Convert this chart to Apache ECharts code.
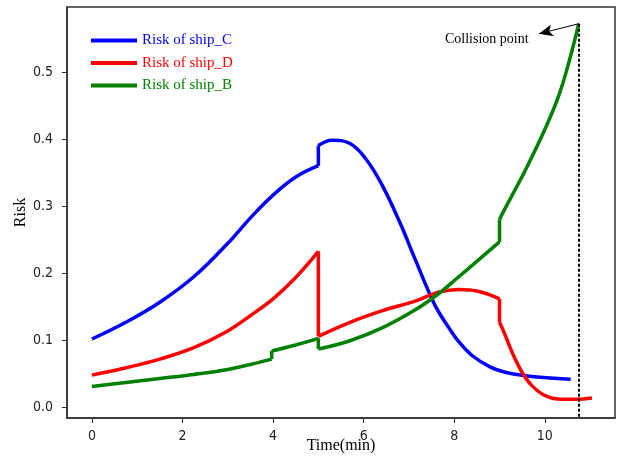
<!DOCTYPE html>
<html>
<head>
<meta charset="utf-8">
<script src="https://cdn.jsdelivr.net/npm/echarts@6/dist/echarts.min.js"></script>
<style>html,body{margin:0;padding:0;background:#fff}#chart{width:621px;height:456px}</style>
</head>
<body>
<div id="chart"></div>
<script>
// ---- data (time in minutes, risk values) ----
const timeC = [0, 0.75, 1.5, 2.25, 3, 3.5, 4, 4.5, 5, 5, 5.3, 5.7, 6.05, 6.4, 6.8, 7.15, 7.5, 7.66, 7.9, 8.1, 8.4, 8.8, 9.15, 9.5, 9.9, 10.57];
const riskC = [0.102, 0.127, 0.157, 0.195, 0.245, 0.283, 0.317, 0.344, 0.361, 0.391, 0.399, 0.394, 0.371, 0.333, 0.276, 0.219, 0.163, 0.142, 0.117, 0.098, 0.077, 0.060, 0.052, 0.048, 0.045, 0.042];

const timeD = [0, 0.75, 1.5, 2.25, 3, 3.5, 4, 4.5, 5, 5, 5.7, 6.4, 7.15, 7.65, 8.1, 8.55, 9, 9, 9.13, 9.28, 9.5, 9.72, 10.02, 10.38, 10.7, 11.04];
const riskD = [0.048, 0.059, 0.072, 0.089, 0.114, 0.137, 0.162, 0.194, 0.233, 0.106, 0.127, 0.144, 0.159, 0.172, 0.176, 0.173, 0.162, 0.127, 0.107, 0.082, 0.052, 0.032, 0.017, 0.012, 0.012, 0.014];

const timeB = [0, 0.75, 1.5, 2.25, 3, 3.5, 3.97, 3.97, 4.5, 5, 5, 5.68, 6.42, 7.15, 7.66, 8.1, 8.55, 9, 9, 9.13, 9.4, 9.65, 10.02, 10.31, 10.53, 10.75];
const riskB = [0.031, 0.037, 0.043, 0.049, 0.0565, 0.064, 0.072, 0.084, 0.093, 0.103, 0.087, 0.099, 0.119, 0.146, 0.170, 0.195, 0.221, 0.247, 0.281, 0.298, 0.332, 0.365, 0.418, 0.466, 0.515, 0.573];

const seriesNames = ['Risk of ship_C', 'Risk of ship_D', 'Risk of ship_B'];
const seriesColors = ['#0000ff', '#ff0000', '#008000'];
const xTicks = [0, 2, 4, 6, 8, 10];
const yTicks = [0, 0.1, 0.2, 0.3, 0.4, 0.5];
const collisionTime = 10.75;
const collisionRisk = 0.573;
const arrowEnd = [9.87, 0.558];
const annotationText = 'Collision point';

// split a series into smooth pieces and straight vertical jumps
function pieces(t, v) {
  const out = [];
  let cur = [[t[0], v[0]]];
  for (let i = 1; i < t.length; i++) {
    if (t[i] === t[i - 1]) {
      out.push({smooth: true, data: cur});
      out.push({smooth: false, data: [[t[i - 1], v[i - 1]], [t[i], v[i]]]});
      cur = [[t[i], v[i]]];
    } else {
      cur.push([t[i], v[i]]);
    }
  }
  out.push({smooth: true, data: cur});
  return out;
}

const chart = echarts.init(document.getElementById('chart'), null, {renderer: 'canvas'});
const serif = '"Liberation Serif", "Times New Roman", serif';
const tickFont = '"DejaVu Sans Condensed", "DejaVu Sans", sans-serif';

const series = [];
[[timeC, riskC], [timeD, riskD], [timeB, riskB]].forEach(([t, v], k) => {
  pieces(t, v).forEach(p => {
    series.push({
      name: seriesNames[k], type: 'line', data: p.data, showSymbol: false, symbol: 'none',
      smooth: p.smooth ? 0.4 : false, animation: false,
      lineStyle: {color: seriesColors[k], width: 3.5, cap: 'butt', join: 'miter'},
      itemStyle: {color: seriesColors[k]}
    });
  });
});

series.push({
  name: 'collision', type: 'line', data: [], silent: true,
  markLine: {
    silent: true, animation: false,
    label: {show: false},
    data: [
      [{coord: [collisionTime, collisionRisk], symbol: 'none', lineStyle: {color: '#000', width: 2, type: [3, 2]}},
       {coord: [collisionTime, -0.016], symbol: 'none'}],
      [{coord: [collisionTime, collisionRisk], symbol: 'none', lineStyle: {color: '#000', width: 1, type: 'solid'}},
       {coord: arrowEnd, symbol: 'arrow', symbolSize: [9, 14]}]
    ]
  }
});

chart.setOption({
  animation: false,
  grid: {left: 67, right: 6, top: 7, bottom: 38, containLabel: false, outerBoundsMode: 'none',
    show: true, borderColor: '#333', borderWidth: 1.5},
  legend: {
    orient: 'vertical', left: 91, top: 33, padding: 0, itemWidth: 46, itemHeight: 14, itemGap: 7.5,
    icon: 'path://M0,0 L46,0 L46,4 L0,4 Z',
    textStyle: {fontFamily: serif, fontSize: 15},
    data: seriesNames.map((n, i) => ({name: n, itemStyle: {color: seriesColors[i]}, textStyle: {color: seriesColors[i]}}))
  },
  xAxis: {
    type: 'value', min: -0.55, max: 11.55,
    name: 'Time(min)', nameLocation: 'middle', nameGap: 20, nameMoveOverlap: false,
    nameTextStyle: {fontFamily: serif, fontSize: 16, color: '#000'},
    axisLine: {show: true, onZero: false, lineStyle: {color: '#333', width: 1.5}},
    axisTick: {show: true, inside: false, length: 5, customValues: xTicks, lineStyle: {color: '#333'}},
    axisLabel: {customValues: xTicks, margin: 11, fontFamily: tickFont, fontSize: 14, color: '#222'},
    splitLine: {show: false}
  },
  yAxis: {
    type: 'value', min: -0.016, max: 0.598,
    name: 'Risk', nameLocation: 'middle', nameGap: 38, nameMoveOverlap: false,
    nameTextStyle: {fontFamily: serif, fontSize: 16, color: '#000'},
    axisLine: {show: true, onZero: false, lineStyle: {color: '#333', width: 1.5}},
    axisTick: {show: true, inside: false, length: 5, customValues: yTicks, lineStyle: {color: '#333'}},
    axisLabel: {customValues: yTicks, margin: 14, fontFamily: tickFont, fontSize: 14, color: '#222',
      formatter: v => v.toFixed(1)},
    splitLine: {show: false}
  },
  graphic: [{
    type: 'text', left: 445, top: 32,
    style: {text: annotationText, font: '14px ' + serif, fill: '#000'}
  }],
  series
});
</script>
</body>
</html>
